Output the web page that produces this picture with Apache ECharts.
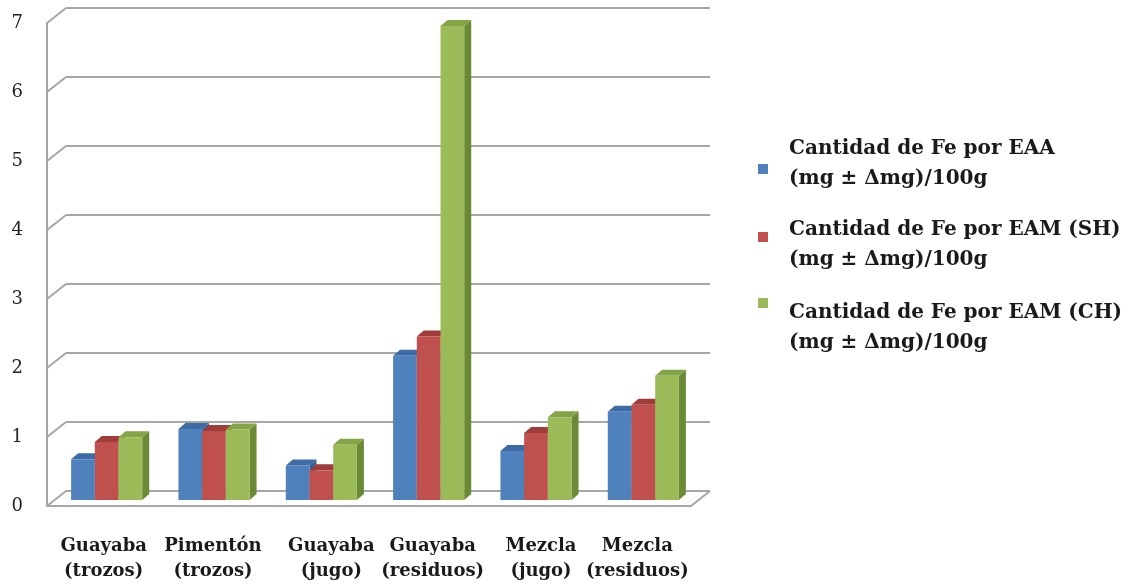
<!DOCTYPE html>
<html><head><meta charset="utf-8">
<script src="https://cdn.jsdelivr.net/npm/echarts@6/dist/echarts.min.js"></script>
<style>html,body{margin:0;padding:0;background:#fff}#c{width:1129px;height:586px}</style>
</head><body><div id="c"></div>
<script>
// ---------- data ----------
const categories = ['Guayaba\n(trozos)', 'Pimentón\n(trozos)', 'Guayaba\n(jugo)', 'Guayaba\n(residuos)', 'Mezcla\n(jugo)', 'Mezcla\n(residuos)'];
const seriesNames = [
  'Cantidad de Fe por EAA\n(mg ± Δmg)/100g',
  'Cantidad de Fe por EAM (SH)\n(mg ± Δmg)/100g',
  'Cantidad de Fe por EAM (CH)\n(mg ± Δmg)/100g'
];
const feEAA   = [0.59, 1.03, 0.50, 2.09, 0.71, 1.28];
const feEAMSH = [0.84, 1.00, 0.43, 2.37, 0.97, 1.38];
const feEAMCH = [0.91, 1.02, 0.80, 6.87, 1.20, 1.80];
const yTicks = [0, 1, 2, 3, 4, 5, 6, 7];

// ---------- layout / style ----------
const FONT = 'DejaVu Serif';
const GRID_COLOR = '#a6a6a6';
const DX = 19, DY = 15;          // back wall offset
const BAR_OX = 6, BAR_OY = -6;   // bar plane offset from front plane
const BAR_W = 23.7;
const DDX = 7, DDY = -6;         // bar depth
const PALETTE = [
  {front: '#4F81BD', top: '#3D6BA5', side: '#365F91'},
  {front: '#C0504D', top: '#A03C39', side: '#8C3431'},
  {front: '#9BBB59', top: '#84A546', side: '#6A8A35'}
];
const LABEL_SHIFT = [3, 5, 16, 10, 11, 0];
// legend placement and spacer heights above/below the two text lines
const LEGEND_LAYOUT = [
  {iconY: 174, above: 0,  below: 10},
  {iconY: 237, above: 16, below: 0},
  {iconY: 303, above: 50, below: 0}
];
const LEGEND_LINE = 30;
const seriesValues = [feEAA, feEAMSH, feEAMCH];

const rich = {};
LABEL_SHIFT.forEach((s, i) => {
  rich['c' + i] = {fontFamily: FONT, fontWeight: 'bold', fontSize: 18, lineHeight: 25, color: '#1a1a1a',
                   padding: [0, 0, 0, 2 * s]};
});

function barRender(k) {
  return function (params, api) {
    const i = api.value(0), v = api.value(1);
    const p0 = api.coord([i, 0]), p1 = api.coord([i, v]);
    const x0 = p0[0] + BAR_OX + (k - 1.5) * BAR_W;
    const x1 = x0 + BAR_W;
    const yb = p0[1] + BAR_OY, yt = p1[1] + BAR_OY;
    const c = PALETTE[k];
    return {type: 'group', children: [
      {type: 'polygon', shape: {points: [[x1, yb], [x1, yt], [x1 + DDX, yt + DDY], [x1 + DDX, yb + DDY]]}, style: {fill: c.side}},
      {type: 'polygon', shape: {points: [[x0, yt], [x1, yt], [x1 + DDX, yt + DDY], [x0 + DDX, yt + DDY]]}, style: {fill: c.top}},
      {type: 'rect', shape: {x: x0, y: yt, width: BAR_W, height: yb - yt}, style: {fill: c.front}}
    ]};
  };
}

function wallRender(params, api) {
  const cs = params.coordSys;
  const v = api.value(1);
  const y = api.coord([0, v])[1];
  const ls = {stroke: GRID_COLOR, lineWidth: 2};
  const children = [{type: 'line', shape: {x1: cs.x - DX, y1: y + DY, x2: cs.x, y2: y}, style: ls}];
  if (v === 0) {
    const xr = cs.x + cs.width;
    children.push({type: 'line', shape: {x1: xr - DX, y1: y + DY, x2: xr, y2: y}, style: ls});
  }
  return {type: 'group', children};
}

function legendFor(k) {
  const p = LEGEND_LAYOUT[k];
  const boxH = p.above + p.below + 2 * LEGEND_LINE;
  const r = {
    t: {fontFamily: FONT, fontWeight: 'bold', fontSize: 20, lineHeight: LEGEND_LINE, color: '#1a1a1a'},
    a: {fontSize: 2, lineHeight: p.above, height: p.above},
    b: {fontSize: 2, lineHeight: p.below, height: p.below}
  };
  return {
    data: [seriesNames[k]], left: 758, top: p.iconY - boxH / 2, orient: 'vertical', padding: 0,
    itemWidth: 10, itemHeight: 10, icon: 'rect', selectedMode: false,
    textStyle: {padding: [0, 0, 0, 16], rich: r},
    formatter: name => {
      let s = name.split('\n').map(l => '{t|' + l + '}').join('\n');
      if (p.above) s = '{a| }\n' + s;
      if (p.below) s = s + '\n{b| }';
      return s;
    }
  };
}

const chart = echarts.init(document.getElementById('c'), null, {renderer: 'canvas'});
chart.setOption({
  animation: false,
  backgroundColor: '#fff',
  grid: [
    {left: 47, right: 438, top: 23, bottom: 80},
    {left: 66, right: 419, top: 8, bottom: 95}
  ],
  xAxis: [
    {type: 'category', gridIndex: 0, data: categories,
     axisLine: {show: true, lineStyle: {color: GRID_COLOR, width: 2}},
     axisTick: {show: false}, splitLine: {show: false},
     axisLabel: {interval: 0, margin: 28,
       formatter: (val, idx) => val.split('\n').map(s => '{c' + idx + '|' + s + '}').join('\n'),
       rich: rich}},
    {type: 'value', gridIndex: 1, min: 0, max: 1, show: false}
  ],
  yAxis: [
    {type: 'value', gridIndex: 0, min: 0, max: 7, interval: 1,
     axisLine: {show: true, lineStyle: {color: GRID_COLOR, width: 2}},
     axisTick: {show: false}, splitLine: {show: false},
     axisLabel: {margin: 24, fontFamily: FONT, fontSize: 18, color: '#222'}},
    {type: 'value', gridIndex: 1, min: 0, max: 7, interval: 1,
     axisLine: {show: false}, axisTick: {show: false}, axisLabel: {show: false},
     splitLine: {show: true, lineStyle: {color: GRID_COLOR, width: 2}}}
  ],
  legend: [0, 1, 2].map(legendFor),
  series: [
    {type: 'custom', name: 'walls', xAxisIndex: 1, yAxisIndex: 1, silent: true, z: 1,
     renderItem: wallRender, data: yTicks.map(v => [0, v]), encode: {x: 0, y: 1}},
  ].concat(seriesValues.map((vals, k) => ({
    type: 'custom', name: seriesNames[k], xAxisIndex: 0, yAxisIndex: 0, z: 3,
    itemStyle: {color: PALETTE[k].front},
    renderItem: barRender(k),
    data: vals.map((v, i) => [i, v]), encode: {x: 0, y: 1}
  })))
});
</script>
</body></html>
